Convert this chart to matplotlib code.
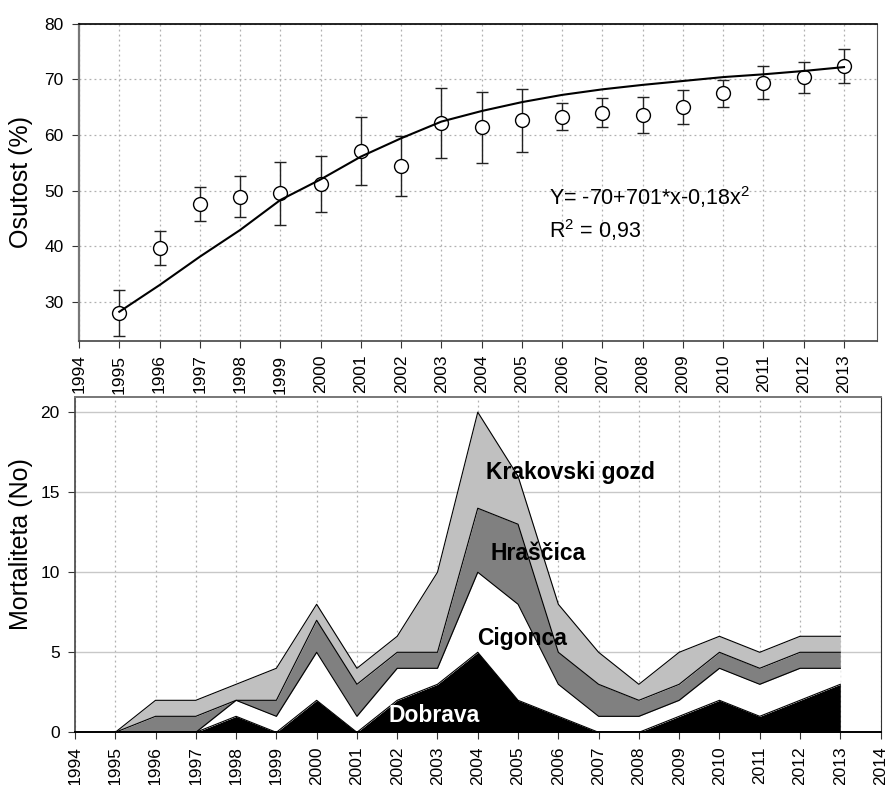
"""Osutost and mortaliteta, 1995-2013."""

import matplotlib

matplotlib.use("Agg")
import matplotlib.pyplot as plt
import numpy as np

plt.rcParams["font.family"] = ["Liberation Sans", "DejaVu Sans"]
plt.rcParams["mathtext.fontset"] = "custom"
plt.rcParams["mathtext.rm"] = "Liberation Sans"
plt.rcParams["mathtext.default"] = "regular"

years = list(range(1995, 2014))

# top panel: mean defoliation with error bars, and the fitted curve
osutost_mean = [28.0, 39.7, 47.6, 48.9, 49.5, 51.2, 57.1, 54.4, 62.2, 61.4,
                62.6, 63.3, 64.0, 63.6, 65.0, 67.5, 69.4, 70.4, 72.4]
osutost_err = [4.1, 3.1, 3.0, 3.7, 5.7, 5.0, 6.1, 5.4, 6.3, 6.4,
               5.6, 2.5, 2.6, 3.2, 3.1, 2.4, 3.0, 2.8, 3.1]
fit_values = [28.2, 33.0, 38.1, 42.9, 48.3, 52.0, 56.1, 59.4, 62.4, 64.3,
              65.9, 67.2, 68.2, 69.0, 69.7, 70.4, 70.9, 71.5, 72.2]

# bottom panel: mortality counts per site (stacked)
dobrava = [0, 0, 0, 1, 0, 2, 0, 2, 3, 5, 2, 1, 0, 0, 1, 2, 1, 2, 3]
cigonca = [0, 0, 0, 1, 1, 3, 1, 2, 1, 5, 6, 2, 1, 1, 1, 2, 2, 2, 1]
hrascica = [0, 1, 1, 0, 1, 2, 2, 1, 1, 4, 5, 2, 2, 1, 1, 1, 1, 1, 1]
krakovski = [0, 1, 1, 1, 2, 1, 1, 1, 5, 6, 3, 3, 2, 1, 2, 1, 1, 1, 1]

site_names = ["Dobrava", "Cigonca", "Hraščica", "Krakovski gozd"]
site_colors = ["black", "white", "#808080", "#c0c0c0"]

fig = plt.figure(figsize=(8.85, 7.85), dpi=100)
ax1 = fig.add_axes([0.0893, 0.566, 0.9017, 0.4038])
ax2 = fig.add_axes([0.0847, 0.0671, 0.9103, 0.4276])

# ---- top panel ----
x = np.array(years)
ax1.errorbar(x, osutost_mean, yerr=osutost_err, fmt="none", ecolor="#222222",
             elinewidth=1.0, capsize=4.5, capthick=1.0, zorder=2)
ax1.plot(x, osutost_mean, "o", ms=10, mfc="white", mec="black", mew=1.0,
         zorder=3)
ax1.plot(x, fit_values, color="black", lw=1.5, zorder=4)

ax1.set_xlim(1994, 2013.82)
ax1.set_ylim(23, 80)
ax1.set_xticks(range(1994, 2014))
ax1.set_xticklabels([str(y) for y in range(1994, 2014)], rotation=90)
ax1.set_yticks([30, 40, 50, 60, 70, 80])
ax1.grid(True, color="#b0b0b0", ls=(0, (1.5, 2.5)), lw=0.9)
ax1.set_axisbelow(True)
ax1.tick_params(labelsize=12.5, direction="out", length=5, color="#333333")
ax1.tick_params(axis="x", pad=5)
ax1.tick_params(axis="y", pad=6)
ax1.set_ylabel("Osutost (%)", fontsize=18)
ax1.yaxis.set_label_coords(-0.058, 0.5)
ax1.spines["left"].set_color("#777777")
ax1.spines["left"].set_linewidth(1.6)
ax1.spines["bottom"].set_color("#444444")
ax1.spines["bottom"].set_linewidth(1.2)
ax1.spines["right"].set_color("#555555")
ax1.spines["top"].set_color("black")
ax1.spines["top"].set_linewidth(1.2)

ax1.text(2005.67, 47.4, "Y= -70+701*x-0,18x$^2$", fontsize=15.5, va="baseline")
ax1.text(2005.67, 41.4, "R$^2$ = 0,93", fontsize=15.5, va="baseline")

# ---- bottom panel ----
layers = [dobrava, cigonca, hrascica, krakovski]
base = np.zeros(len(years))
for vals, col in zip(layers, site_colors):
    top = base + np.array(vals)
    ax2.fill_between(x, base, top, color=col, lw=0, zorder=2)
    ax2.plot(x, top, color="black", lw=0.8, zorder=3)
    base = top

ax2.set_xlim(1994, 2014)
ax2.set_ylim(0, 20.97)
ax2.set_xticks(range(1994, 2015))
ax2.set_xticklabels([str(y) for y in range(1994, 2015)], rotation=90)
ax2.set_yticks([0, 5, 10, 15, 20])
ax2.yaxis.grid(True, color="#c8c8c8", lw=1.0)
ax2.xaxis.grid(True, color="#b0b0b0", ls=(0, (1.5, 2.5)), lw=0.9)
ax2.set_axisbelow(True)
ax2.tick_params(labelsize=12.5, direction="out", length=5, color="#333333")
ax2.tick_params(axis="x", pad=5)
ax2.tick_params(axis="y", pad=6)
ax2.set_ylabel("Mortaliteta (No)", fontsize=18)
ax2.yaxis.set_label_coords(-0.052, 0.56)
ax2.spines["left"].set_color("#444444")
ax2.spines["left"].set_linewidth(1.2)
ax2.spines["bottom"].set_color("black")
ax2.spines["bottom"].set_linewidth(1.4)
ax2.spines["top"].set_color("#777777")
ax2.spines["top"].set_linewidth(1.4)
ax2.spines["right"].set_color("#333333")

label_style = dict(fontsize=16.5, fontweight="bold", va="baseline", zorder=5)
ax2.text(2004.2, 15.8, site_names[3], color="black", **label_style)
ax2.text(2004.31, 10.77, site_names[2], color="black", **label_style)
ax2.text(2003.98, 5.46, site_names[1], color="black", **label_style)
ax2.text(2001.78, 0.65, site_names[0], color="white", **label_style)

fig.savefig("out.png", dpi=100)
